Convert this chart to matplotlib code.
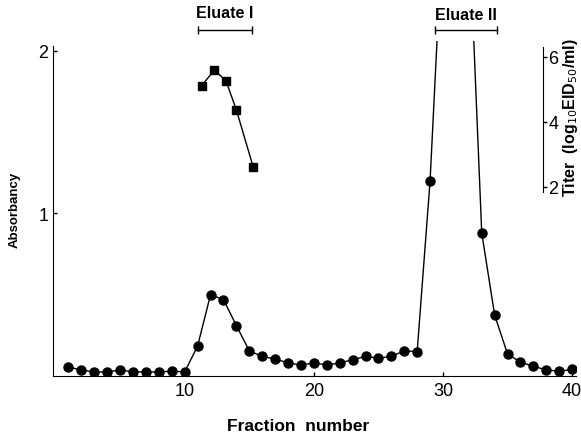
import matplotlib
matplotlib.use('Agg')
import matplotlib.pyplot as plt

# ---- data ----
fractions = list(range(1, 41))
absorbancy = [0.055, 0.037, 0.025, 0.025, 0.037, 0.025, 0.025, 0.025, 0.03, 0.025,
              0.185, 0.50, 0.47, 0.31, 0.155, 0.12, 0.105, 0.08, 0.068, 0.08,
              0.068, 0.08, 0.10, 0.12, 0.11, 0.12, 0.155, 0.15, 1.20, 2.80,
              3.00, 2.80, 0.88, 0.375, 0.135, 0.085, 0.06, 0.037, 0.03, 0.04]

titer_frac = [11.3, 12.3, 13.2, 14.0, 15.3]
titer = [5.11, 5.60, 5.26, 4.37, 2.62]

eluate_names = ['Eluate I', 'Eluate II']
eluate_ranges = [(11.0, 15.2), (29.4, 34.2)]

plt.rcParams['font.family'] = ['Liberation Sans', 'DejaVu Sans']

fig = plt.figure(figsize=(5.81, 4.35), dpi=100)
ax = fig.add_axes([53 / 581, 58 / 435, 523 / 581, 335 / 435])

ax.plot(fractions, absorbancy, color='black', lw=1.0, marker='o', ms=6.5)
ax.set_xlim(-0.2, 40.3)
ax.set_ylim(0, 2.06)
ax.set_xticks([10, 20, 30, 40])
ax.set_yticks([1, 2])
ax.tick_params(direction='in', length=3, labelsize=13, width=1)
ax.tick_params(axis='x', pad=4)
ax.spines['top'].set_visible(False)
ax.spines['right'].set_visible(False)
ax.spines['left'].set_bounds(0, 2.03)

# eluate bars on top
for name, (x0, x1), ytxt in zip(eluate_names, eluate_ranges, [2.235, 2.22]):
    ax.plot([x0, x1], [2.13, 2.13], color='black', lw=1.0, marker='|', ms=6, clip_on=False)
    ax.text((x0 + x1) / 2, ytxt, name, ha='center', va='center', fontsize=11.5,
            fontweight='bold', clip_on=False)

# titer on right axis
ax2 = ax.twinx()
ax2.plot(titer_frac, titer, color='black', lw=1.0, marker='s', ms=5.5)
ax2.set_ylim(-3.815, 6.49)
ax2.set_yticks([2, 4, 6])
ax2.spines['right'].set_position(('axes', (543 - 53) / 523))
ax2.spines['right'].set_bounds(1.85, 6.3)
for s in ['top', 'left', 'bottom']:
    ax2.spines[s].set_visible(False)
ax2.tick_params(direction='out', length=3, labelsize=13, width=1, pad=1)

fig.text(15 / 581, 1 - 210 / 435, 'Absorbancy', rotation=90, ha='center', va='center',
         fontsize=9.5, fontweight='bold')
fig.text(298 / 581, 1 - 427 / 435, 'Fraction  number', ha='center', va='center',
         fontsize=12.5, fontweight='bold')
fig.text(571 / 581, 1 - 118 / 435, r'Titer  (log$_{10}$EID$_{50}$/ml)', rotation=90,
         ha='center', va='center', fontsize=11.5, fontweight='bold')

fig.savefig('out.png', dpi=100)
